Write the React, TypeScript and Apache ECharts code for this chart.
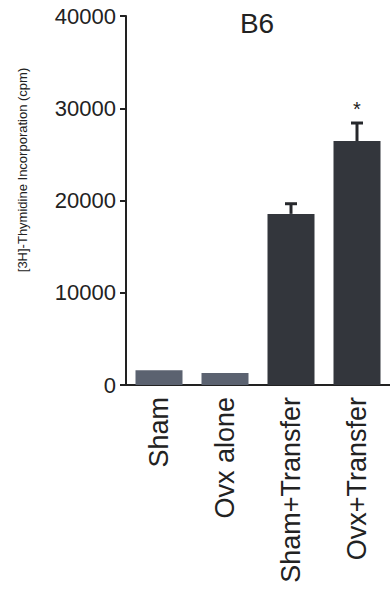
import React, { useEffect, useRef } from "react";
import * as echarts from "echarts";

const categories = ["Sham", "Ovx alone", "Sham+Transfer", "Ovx+Transfer"];
const means = [1600, 1300, 18550, 26450];
const errors = [0, 0, 1100, 1950];
const significance = ["", "", "", "*"];
const barColors = ["#5b6270", "#5b6270", "#33363c", "#33363c"];
const yTicks = [0, 10000, 20000, 30000, 40000];

const FONT = "Liberation Sans, Arial, sans-serif";

export default function App() {
  const ref = useRef<HTMLDivElement>(null);
  useEffect(() => {
    if (!ref.current) return;
    const chart = echarts.init(ref.current, undefined, { renderer: "svg" });
    const option: any = {
      animation: false,
      backgroundColor: "#ffffff",
      grid: { left: 126, top: 16, width: 268, height: 369, containLabel: false },
      graphic: [
        {
          type: "text",
          x: 257,
          y: 23,
          style: { text: "B6", fontSize: 28, fontFamily: FONT, fill: "#222", align: "center", verticalAlign: "middle" },
        },
        {
          type: "text",
          x: 22,
          y: 170,
          rotation: Math.PI / 2,
          style: {
            text: "[3H]-Thymidine Incorporation (cpm)",
            fontSize: 13,
            fontFamily: FONT,
            fill: "#222",
            align: "center",
            verticalAlign: "middle",
          },
        },
      ],
      xAxis: {
        type: "category",
        data: categories,
        axisLine: { show: true, lineStyle: { color: "#222", width: 2 } },
        axisTick: { show: false },
        axisLabel: { rotate: 90, fontSize: 27, fontFamily: FONT, color: "#222", margin: 12, interval: 0 },
        splitLine: { show: false },
      },
      yAxis: {
        type: "value",
        min: yTicks[0],
        max: yTicks[yTicks.length - 1],
        interval: 10000,
        axisLine: { show: true, lineStyle: { color: "#222", width: 2 } },
        axisTick: { show: true, length: 6, lineStyle: { color: "#222", width: 2 } },
        axisLabel: { fontSize: 22, fontFamily: FONT, color: "#222", margin: 10, formatter: (v: number) => String(v) },
        splitLine: { show: false },
      },
      series: [
        {
          type: "bar",
          barWidth: 47,
          data: means.map((v, i) => ({ value: v, itemStyle: { color: barColors[i] } })),
          z: 2,
        },
        {
          type: "custom",
          z: 3,
          data: means.map((m, i) => [i, m, m + errors[i]]),
          renderItem: (params: any, api: any) => {
            const idx = api.value(0);
            const lo = api.value(1);
            const hi = api.value(2);
            const children: any[] = [];
            const pLo = api.coord([idx, lo]);
            const pHi = api.coord([idx, hi]);
            if (hi > lo) {
              children.push({
                type: "line",
                shape: { x1: pLo[0], y1: pLo[1], x2: pHi[0], y2: pHi[1] },
                style: { stroke: "#26282c", lineWidth: 3 },
              });
              children.push({
                type: "line",
                shape: { x1: pHi[0] - 6, y1: pHi[1], x2: pHi[0] + 6, y2: pHi[1] },
                style: { stroke: "#26282c", lineWidth: 3 },
              });
            }
            const sig = significance[params.dataIndex];
            if (sig) {
              children.push({
                type: "text",
                x: pHi[0],
                y: pHi[1] - 4,
                style: { text: sig, fontSize: 20, fontFamily: FONT, fill: "#222", align: "center", verticalAlign: "bottom" },
              });
            }
            return { type: "group", children };
          },
        },
      ],
    };
    chart.setOption(option);
    return () => chart.dispose();
  }, []);
  return <div ref={ref} style={{ position: "absolute", left: 0, top: 0, width: 390, height: 606 }} />;
}
